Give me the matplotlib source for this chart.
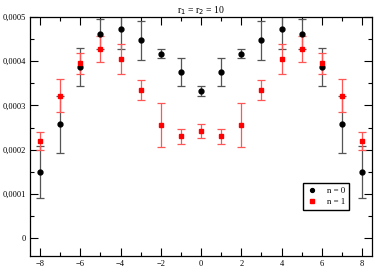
import matplotlib.pyplot as plt
import numpy as np
from matplotlib.ticker import MultipleLocator, FuncFormatter

plt.rcParams['font.family'] = ['Liberation Serif', 'DejaVu Serif']

x = np.arange(-8, 9)
# n = 0 (left half, mirrored)
y0_half = [0.000150, 0.000257, 0.000387, 0.000461, 0.000472, 0.000447, 0.000417, 0.000375, 0.000333]
e0_half = [0.000058, 0.000064, 0.000042, 0.000034, 0.000045, 0.000044, 0.000010, 0.000032, 0.000012]
# n = 1
y1_half = [0.000220, 0.000322, 0.000395, 0.000427, 0.000405, 0.000335, 0.000255, 0.000230, 0.000242]
e1_half = [0.000020, 0.000037, 0.000024, 0.000030, 0.000034, 0.000022, 0.000050, 0.000017, 0.000015]

def mirror(h):
    return np.array(h + h[-2::-1])

y0, e0 = mirror(y0_half), mirror(e0_half)
y1, e1 = mirror(y1_half), mirror(e1_half)

fig = plt.figure(figsize=(3.74, 2.68), dpi=100)
ax = fig.add_axes([0.080, 0.045, 0.915, 0.892])

ax.errorbar(x, y0, yerr=e0, fmt='none', ecolor='#555555',
            elinewidth=0.9, capsize=3, capthick=0.9)
ax.errorbar(x, y1, yerr=e1, fmt='none', ecolor='#ff5555',
            elinewidth=0.9, capsize=3, capthick=0.9)
ax.plot(x, y0, 'o', color='black', markersize=3.5, label='n = 0')
ax.plot(x, y1, 's', color='red', markersize=3.2, label='n = 1')

ax.set_xlim(-8.5, 8.5)
ax.set_ylim(-0.00004, 0.0005)
ax.xaxis.set_major_locator(MultipleLocator(2))
ax.xaxis.set_minor_locator(MultipleLocator(1))
ax.yaxis.set_major_locator(MultipleLocator(0.0001))
ax.yaxis.set_minor_locator(MultipleLocator(0.00005))
ax.yaxis.set_major_formatter(FuncFormatter(lambda v, p: '0' if abs(v) < 1e-12 else ('%.4f' % v).replace('.', ',')))
ax.tick_params(which='both', direction='in', top=True, right=True, labelsize=6, pad=3)
ax.tick_params(which='major', length=6, width=0.8)
ax.tick_params(which='minor', length=3, width=0.8)
for s in ax.spines.values():
    s.set_linewidth(0.9)

ax.set_title('r$_1$ = r$_2$ = 10', fontsize=7, pad=3)
ax.legend(loc='lower right', bbox_to_anchor=(0.945, 0.175), fontsize=6.3, fancybox=False,
          edgecolor='black', framealpha=1, handletextpad=1.1, borderpad=0.45,
          handlelength=1.2, labelspacing=0.35, markerscale=0.8)

fig.savefig('out.png', dpi=100)
